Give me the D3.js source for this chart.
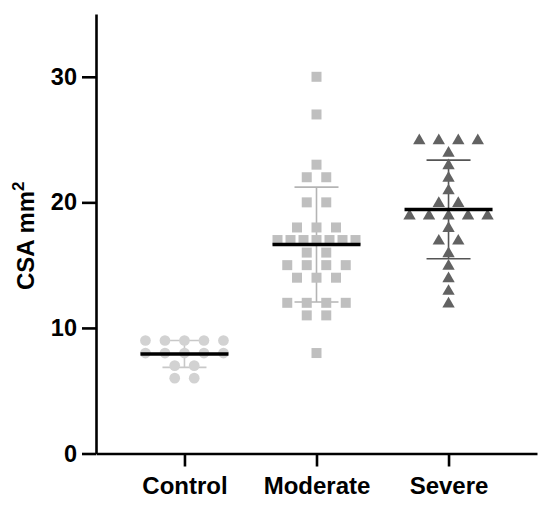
<!DOCTYPE html>
<html>
<head>
<meta charset="utf-8">
<script src="https://cdn.jsdelivr.net/npm/d3@7"></script>
<style>
  body { margin: 0; background: #fff; }
  svg { display: block; font-family: "Liberation Sans", Arial, sans-serif; }
</style>
</head>
<body>
<svg id="chart" width="550" height="505"></svg>
<script>
// values (CSA, mm^2)
let groups = ['Control', 'Moderate', 'Severe']
let control = [9, 9, 9, 9, 9, 8, 8, 8, 8, 8, 7, 7, 6, 6]
let moderate = [30, 27, 23, 22, 22, 20, 20, 18, 18, 18, 17, 17, 17, 17, 17, 17, 17,
  16, 16, 15, 15, 15, 15, 14, 14, 14, 12, 12, 12, 12, 11, 11, 8]
let severe = [25, 25, 25, 25, 24, 23, 22, 21, 20, 20, 19, 19, 19, 19, 19, 18, 17, 17,
  16, 15, 14, 13, 12]
let yTicks = [0, 10, 20, 30]

let series = [
  {name: 'Control', values: control, shape: d3.symbolCircle, fill: '#d2d2d2', bar: '#c8c8c8'},
  {name: 'Moderate', values: moderate, shape: d3.symbolSquare, fill: '#bfbfbf', bar: '#b4b4b4'},
  {name: 'Severe', values: severe, shape: d3.symbolTriangle, fill: '#626262', bar: '#555555'}
]

let svg = d3.select('#chart')
let plotL = 96, plotR = 537, plotT = 14, plotB = 453.5

let x = d3.scalePoint().domain(groups).range([plotL, plotR]).padding(0.67)
let y = d3.scaleLinear().domain([0, 35]).range([plotB, plotT])

// y axis
let yAxis = svg.append('g')
  .attr('transform', 'translate(' + plotL + ',0)')
  .call(d3.axisLeft(y).tickValues(yTicks).tickSize(14).tickPadding(5).tickSizeOuter(0))
yAxis.select('.domain').attr('stroke', '#000').attr('stroke-width', 2.6)
yAxis.selectAll('.tick line').attr('stroke', '#000').attr('stroke-width', 2.6)
yAxis.selectAll('.tick text').attr('font-size', 23.5).attr('font-weight', 'bold').attr('fill', '#000')

// x axis
let xAxis = svg.append('g')
  .attr('transform', 'translate(0,' + plotB + ')')
  .call(d3.axisBottom(x).tickSize(13).tickPadding(10).tickSizeOuter(0))
xAxis.select('.domain').attr('stroke', '#000').attr('stroke-width', 2.6)
xAxis.selectAll('.tick line').attr('stroke', '#000').attr('stroke-width', 2.6)
xAxis.selectAll('.tick text').attr('font-size', 24).attr('font-weight', 'bold').attr('fill', '#000')

// y title
svg.append('text')
  .attr('transform', 'translate(34,' + ((plotT + plotB) / 2 + 2) + ') rotate(-90)')
  .attr('text-anchor', 'middle')
  .attr('font-size', 24).attr('font-weight', 'bold')
  .text('CSA mm')
  .append('tspan').attr('dy', -10).attr('font-size', 17).text('2')

// scatter: points with equal value spread sideways
let step = 19.5, maxSpan = 78

series.forEach(s => {
  let cx = x(s.name)
  let rows = d3.groups(s.values, v => v)
  let pts = []
  rows.forEach(([v, arr]) => {
    let n = arr.length
    let sp = n > 1 ? Math.min(step, maxSpan / (n - 1)) : 0
    arr.forEach((d, i) => pts.push({v: v, dx: (i - (n - 1) / 2) * sp}))
  })

  let m = d3.mean(s.values), sd = d3.deviation(s.values)
  let g = svg.append('g')

  // SD whisker
  g.append('line').attr('x1', cx).attr('x2', cx).attr('y1', y(m + sd)).attr('y2', y(m - sd))
    .attr('stroke', s.bar).attr('stroke-width', 1.6)
  ;[m + sd, m - sd].forEach(e => {
    g.append('line').attr('x1', cx - 22).attr('x2', cx + 22).attr('y1', y(e)).attr('y2', y(e))
      .attr('stroke', s.bar).attr('stroke-width', 1.6)
  })

  let sym = d3.symbol().type(s.shape).size(s.shape === d3.symbolTriangle ? 66 : (s.shape === d3.symbolSquare ? 100 : 90))
  g.selectAll('path.pt').data(pts).enter().append('path')
    .attr('class', 'pt')
    .attr('d', sym)
    .attr('transform', d => 'translate(' + (cx + d.dx) + ',' + (y(d.v) + (s.shape === d3.symbolTriangle ? 1 : 0)) + ')')
    .attr('fill', s.fill)

  // mean line
  g.append('line').attr('x1', cx - 44).attr('x2', cx + 44).attr('y1', y(m)).attr('y2', y(m))
    .attr('stroke', '#000').attr('stroke-width', 3.5)
})
</script>
</body>
</html>
